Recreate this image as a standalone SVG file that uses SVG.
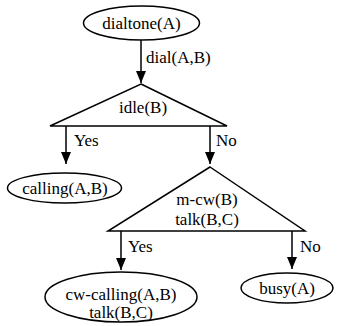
<svg xmlns="http://www.w3.org/2000/svg" width="340" height="326" viewBox="0 0 340 326">
<style>
.s{fill:#fff;stroke:#000;stroke-width:1.5}
.c{fill:none;stroke:#000;stroke-width:1.5}
text{font-family:"Liberation Serif","Times New Roman",serif;font-size:17px;fill:#000}
.m{text-anchor:middle}
</style>
<g id="connectors">
<path class="c" d="M141,40 V83"/>
<text x="146" y="63">dial(A,B)</text>
<path class="c" d="M66,126 V164"/>
<text x="74" y="146">Yes</text>
<path class="c" d="M210,126 V164"/>
<text x="216" y="146">No</text>
<path class="c" d="M121,231 V270"/>
<text x="128" y="252">Yes</text>
<path class="c" d="M292,231 V269"/>
<text x="300" y="252">No</text>
<g fill="#000">
<path d="M136,71 L146,71 L141,83 Z"/>
<path d="M61,152 L71,152 L66,164 Z"/>
<path d="M205,152 L215,152 L210,164 Z"/>
<path d="M116,258 L126,258 L121,270 Z"/>
<path d="M287,257 L297,257 L292,269 Z"/>
</g>
</g>
<g id="dialtone">
<ellipse class="s" cx="141.5" cy="23" rx="58" ry="17"/>
<text class="m" x="141.5" y="29">dialtone(A)</text>
</g>
<g id="idle">
<path class="s" d="M141,84 L227,126 L50,126 Z"/>
<text class="m" x="143" y="113">idle(B)</text>
</g>
<g id="calling">
<ellipse class="s" cx="64.5" cy="188" rx="57" ry="15"/>
<text class="m" x="65" y="194">calling(A,B)</text>
</g>
<g id="mcw">
<path class="s" d="M210,167 L305,231 L108,231 Z"/>
<text class="m" x="207" y="205">m-cw(B)</text>
<text class="m" x="207" y="225">talk(B,C)</text>
</g>
<g id="cwcalling">
<ellipse class="s" cx="121" cy="297" rx="76" ry="25"/>
<text class="m" x="121" y="300">cw-calling(A,B)</text>
<text class="m" x="121" y="318">talk(B,C)</text>
</g>
<g id="busy">
<ellipse class="s" cx="287" cy="288" rx="46" ry="15"/>
<text class="m" x="287" y="294">busy(A)</text>
</g>
</svg>
